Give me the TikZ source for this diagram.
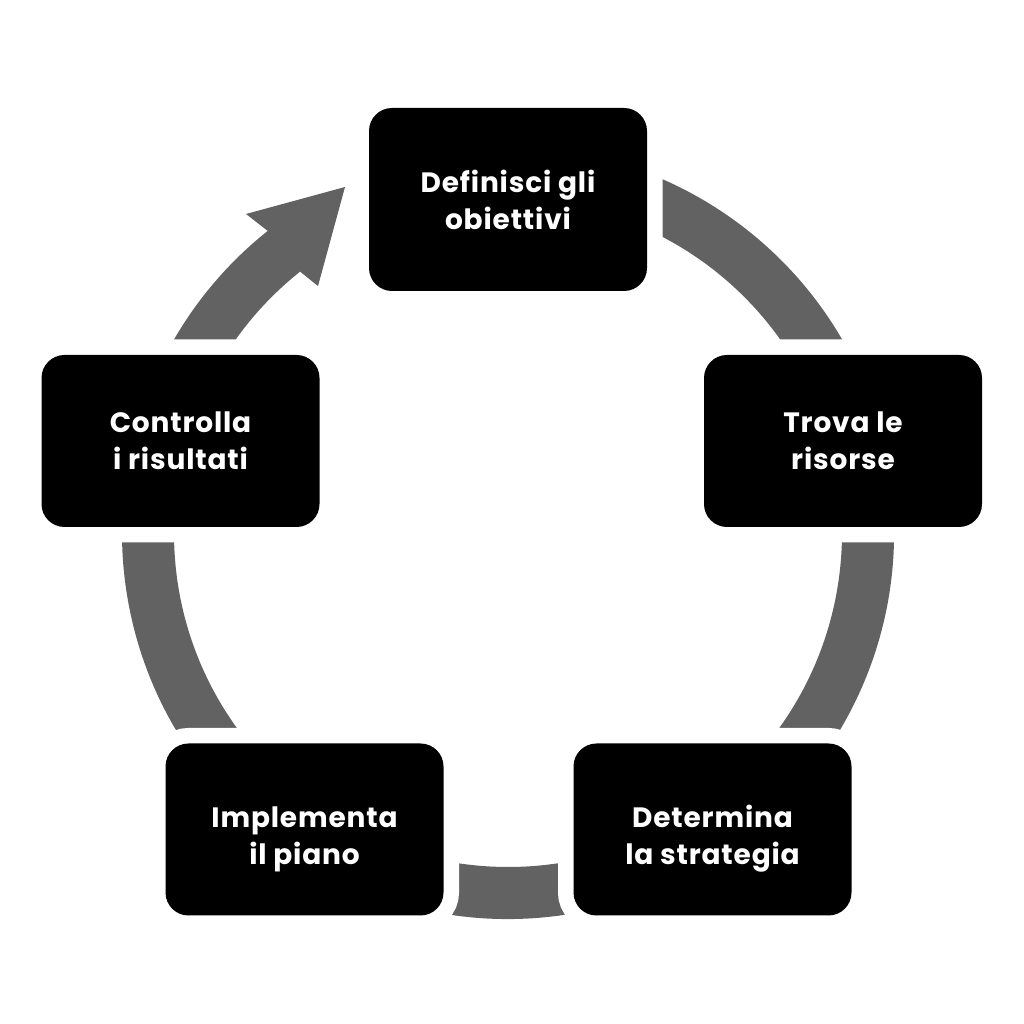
\documentclass[tikz,border=0pt]{standalone}
\usepackage{fontspec}
\setmainfont{Poppins}[LetterSpace=3]
\usetikzlibrary{calc}
\definecolor{ringgray}{RGB}{98,98,98}
\newcommand{\lowtext}[2]{\raisebox{-9pt}[\height][\depth]{\begin{tabular}{@{}c@{}}#1\\#2\end{tabular}}}
\begin{document}
\begin{tikzpicture}[x=1pt,y=1pt,
  stepbox/.style={fill=black, rounded corners=23pt, minimum width=278pt,
    minimum height=172pt, text=white, align=center, inner sep=0pt,
    font=\bfseries\fontsize{28}{37}\selectfont,
    preaction={draw=white, line width=31pt}}]
\useasboundingbox (0,0) rectangle (1024,1024);
\coordinate (c) at (508,491);
\coordinate (bo) at (246,810);
\coordinate (tip) at (345,837);
\coordinate (bi) at (318,738);
\fill[ringgray] ($(c)+(100:386)$) arc[start angle=100,end angle=-231.5,radius=386]
  -- (bo) -- (tip) -- (bi) -- ($(c)+(128.5:334)$)
  arc[start angle=-231.5,end angle=100,radius=334] -- cycle;
\node[stepbox, minimum height=183pt] (s1) at (508,824.5) {Definisci gli\\obiettivi};
\node[stepbox] (s2) at (843,583) {Trova le\\risorse};
\node[stepbox] (s3) at (712.5,194.5) {\lowtext{Determina}{la strategia}};
\node[stepbox] (s4) at (304.5,194.5) {\lowtext{Implementa}{il piano}};
\node[stepbox] (s5) at (180.5,583) {Controlla\\i risultati};
\end{tikzpicture}
\end{document}
